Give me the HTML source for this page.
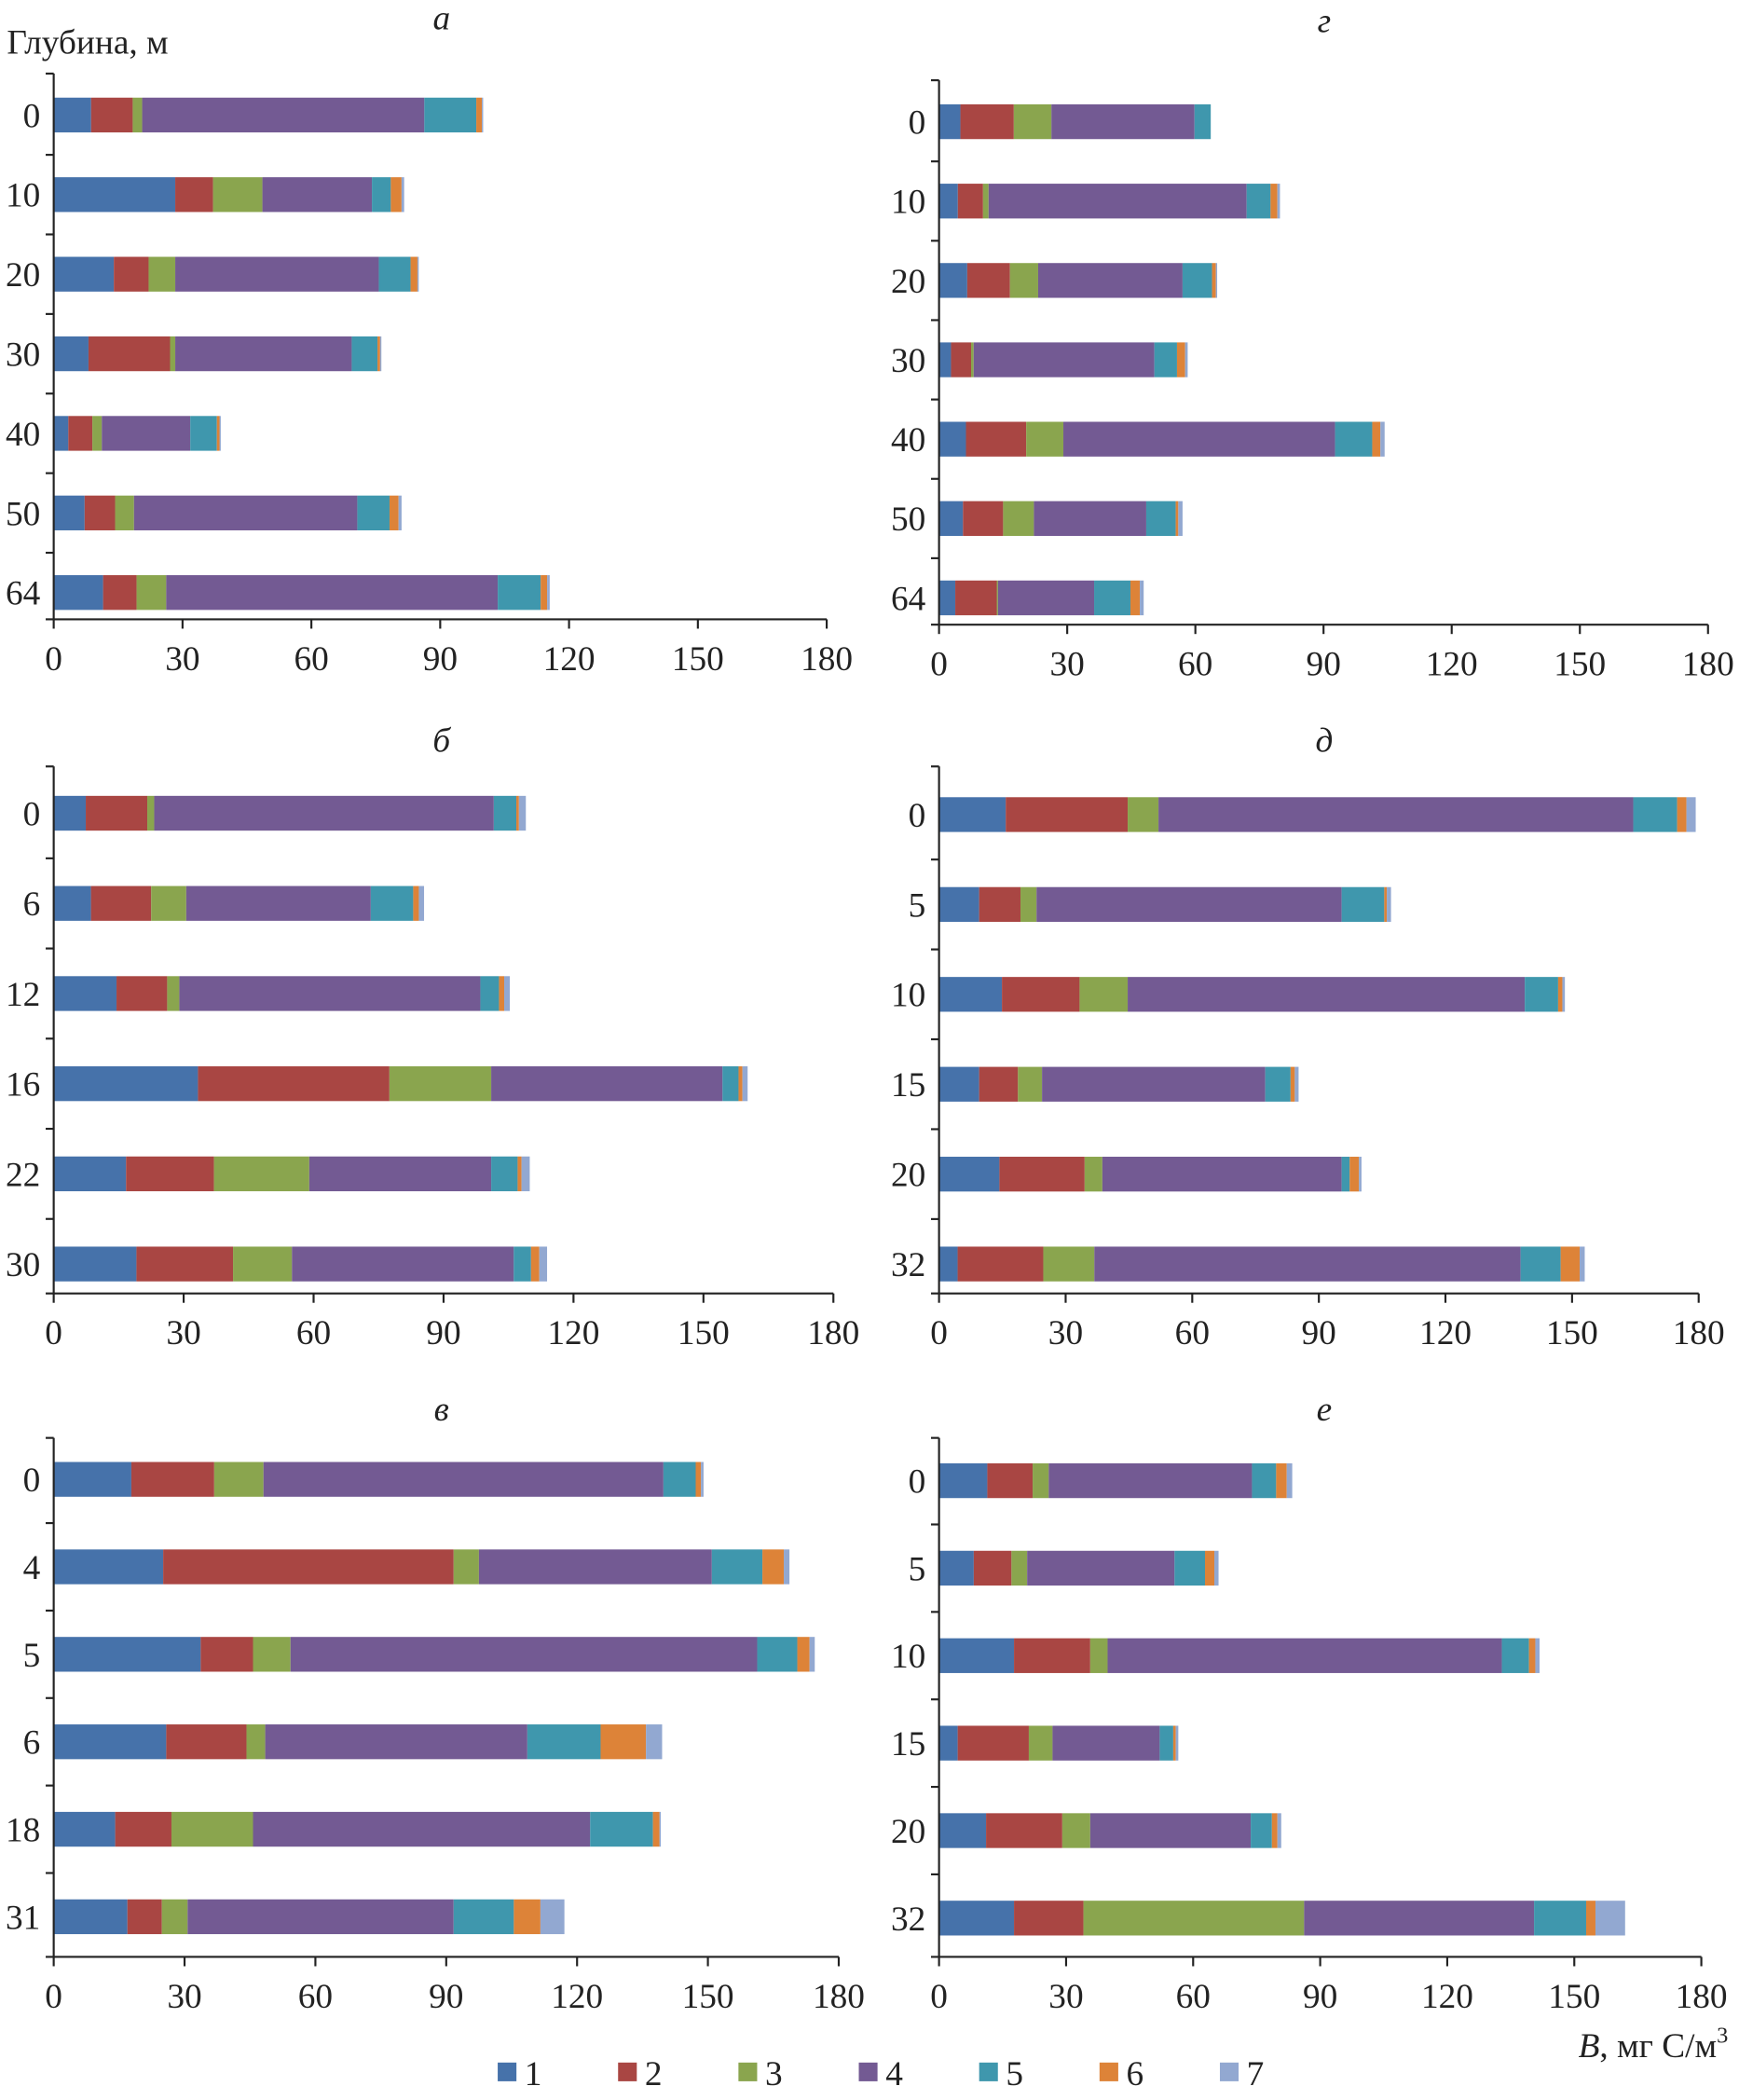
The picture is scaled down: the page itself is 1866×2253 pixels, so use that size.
<!DOCTYPE html>
<html><head><meta charset="utf-8"><style>
html,body{margin:0;padding:0;background:#fff}
svg{display:block}
text{font-family:"Liberation Serif","DejaVu Serif",serif;fill:#222}
</style></head><body>
<svg id="chart" width="1866" height="2253" viewBox="0 0 1300 1570" xmlns="http://www.w3.org/2000/svg"></svg>
<script>
const colors=["#4672aa","#a94643","#8aa54e","#735a93","#3f97ad","#dd8338","#92a8d1"];
const xTicks=[0,30,60,90,120,150,180];
const legendLabels=["1","2","3","4","5","6","7"];
// panel а
const depthsA=["0","10","20","30","40","50","64"];
const valuesA=[[8.7,9.7,2.2,65.7,12.1,1.3,0.3],[28.3,8.8,11.5,25.5,4.4,2.5,0.6],[14,8.1,6.2,47.4,7.4,1.6,0.3],[8.1,19,1.2,41.1,6,0.6,0.3],[3.4,5.6,2.2,20.6,6.2,0.6,0.3],[7.2,7.1,4.4,52,7.5,2.1,0.7],[11.5,7.8,6.9,77.2,10,1.5,0.6]];
// panel г
const depthsG=["0","10","20","30","40","50","64"];
const valuesG=[[5,12.5,8.8,33.5,3.8,0,0],[4.4,5.9,1.3,60.4,5.6,1.6,0.6],[6.6,10,6.6,33.8,6.9,0.9,0.3],[2.8,4.7,0.6,42.3,5.3,1.9,0.6],[6.3,14.1,8.7,63.6,8.7,1.9,1.0],[5.6,9.4,7.2,26.3,6.9,0.6,1.0],[3.8,9.7,0.3,22.5,8.5,2.2,0.9]];
// panel б
const depthsB=["0","6","12","16","22","30"];
const valuesB=[[7.4,14.2,1.6,78.4,5.2,0.6,1.6],[8.6,13.9,8.1,42.6,9.8,1.3,1.2],[14.5,11.7,2.8,69.5,4.3,1.2,1.3],[33.3,44.2,23.5,53.4,3.7,0.9,1.2],[16.7,20.3,22,42,6.1,0.9,1.9],[19.1,22.3,13.6,51.2,4,1.9,1.8]];
// panel д
const depthsD=["0","5","10","15","20","32"];
const valuesD=[[15.8,28.9,7.3,112.5,10.4,2.2,2.2],[9.5,9.8,3.8,72.3,10.1,0.6,1.0],[14.9,18.4,11.4,94.1,7.9,1,0.6],[9.5,9.2,5.7,52.9,6,1,0.9],[14.3,20.2,4.2,56.7,1.9,2.2,0.6],[4.4,20.3,12.1,101,9.5,4.5,1.2]];
// panel в
const depthsV=["0","4","5","6","18","31"];
const valuesV=[[17.8,19,11.3,91.7,7.4,1.2,0.6],[25.1,66.6,5.8,53.4,11.6,4.9,1.3],[33.7,12,8.6,107,9.2,2.8,1.2],[25.8,18.4,4.3,60.1,16.8,10.4,3.7],[14.1,12.9,18.7,77.3,14.4,1.5,0.3],[16.9,7.9,5.9,61,13.8,6.1,5.5]];
// panel е
const depthsE=["0","5","10","15","20","32"];
const valuesE=[[11.4,10.7,3.8,48,5.7,2.5,1.3],[8.2,8.9,3.7,34.8,7.2,2.2,1],[17.7,18,4.1,93.1,6.4,1.5,1],[4.4,16.8,5.6,25.3,3.2,0.6,0.6],[11.1,18,6.6,37.9,5,1.3,0.9],[17.7,16.4,52.1,54.3,12.3,2.2,7]];

const svg=document.getElementById('chart');
const NS="http://www.w3.org/2000/svg";
function mk(tag,attrs,parent){const e=document.createElementNS(NS,tag);for(const k in attrs)e.setAttribute(k,attrs[k]);(parent||svg).appendChild(e);return e;}

function panel(id,title,depths,values,x0,x1,top,firstRow,lastRow,axisY,titleX,titleY){
  const g=mk('g',{});
  
  
  const xs=v=>x0+(x1-x0)*v/180;
  const n=depths.length;
  const step=(lastRow-firstRow)/(n-1);
  const ys=i=>firstRow+i*step;
  const t=mk('text',{x:titleX,y:titleY,'font-size':26,'font-style':'italic','text-anchor':'middle'},g);
  t.textContent=title;
  
  
  // bars
  values.forEach((row,i)=>{
    let acc=0;
    row.forEach((v,k)=>{
      if(v<=0)return;
      const r=mk('rect',{x:xs(acc),y:ys(i)-13,width:xs(acc+v)-xs(acc),height:26,fill:colors[k]},g);
      
      
      acc+=v;
    });
    const lb=mk('text',{x:x0-10,y:ys(i)+9,'font-size':26,'text-anchor':'end'},g);
    lb.textContent=depths[i];
    
    
  });
  // axes
  const ya=mk('line',{x1:x0,y1:top,x2:x0,y2:axisY,stroke:'#222','stroke-width':1.5},g);
  
  
  const xa=mk('line',{x1:x0,y1:axisY,x2:x1,y2:axisY,stroke:'#222','stroke-width':1.5},g);
  
  
  for(let i=0;i<=n;i++){
    const yy=i===0?top:(i===n?axisY:ys(i)-step/2);
    mk('line',{x1:x0-6,y1:yy,x2:x0,y2:yy,stroke:'#222','stroke-width':1.5},g);
  }
  xTicks.forEach(v=>{
    mk('line',{x1:xs(v),y1:axisY,x2:xs(v),y2:axisY+7,stroke:'#222','stroke-width':1.5},g);
    const tl=mk('text',{x:xs(v),y:axisY+38,'font-size':26,'text-anchor':'middle'},g);
    tl.textContent=v;
    
    
  });
}
panel('a','а',depthsA,valuesA,40,618,55,86,443,463,330,22);
panel('g','г',depthsG,valuesG,702,1277,60,91,447,467,990,24);
panel('b','б',depthsB,valuesB,40,623,573,608,945,967,330,562);
panel('d','д',depthsD,valuesD,702,1270,573,609,945,967,990,562);
panel('v','в',depthsV,valuesV,40,627,1075,1106,1433,1463,330,1062);
panel('e','е',depthsE,valuesE,702,1272,1075,1107,1434,1463,990,1062);

const yt=mk('text',{x:5,y:40,'font-size':26});
yt.textContent='Глубина, м';


const xt=mk('text',{x:1292,y:1538,'font-size':26,'text-anchor':'end'});
xt.innerHTML='<tspan font-style="italic">B</tspan>, мг С/м<tspan font-size="17" dy="-11">3</tspan>';


legendLabels.forEach((l,i)=>{
  const lx=372+i*90;
  const lg=mk('g',{});
  
  
  mk('rect',{x:lx,y:1542,width:14,height:14,fill:colors[i]},lg);
  const tt=mk('text',{x:lx+20,y:1559,'font-size':26},lg);
  tt.textContent=l;
});
</script>
</body></html>
